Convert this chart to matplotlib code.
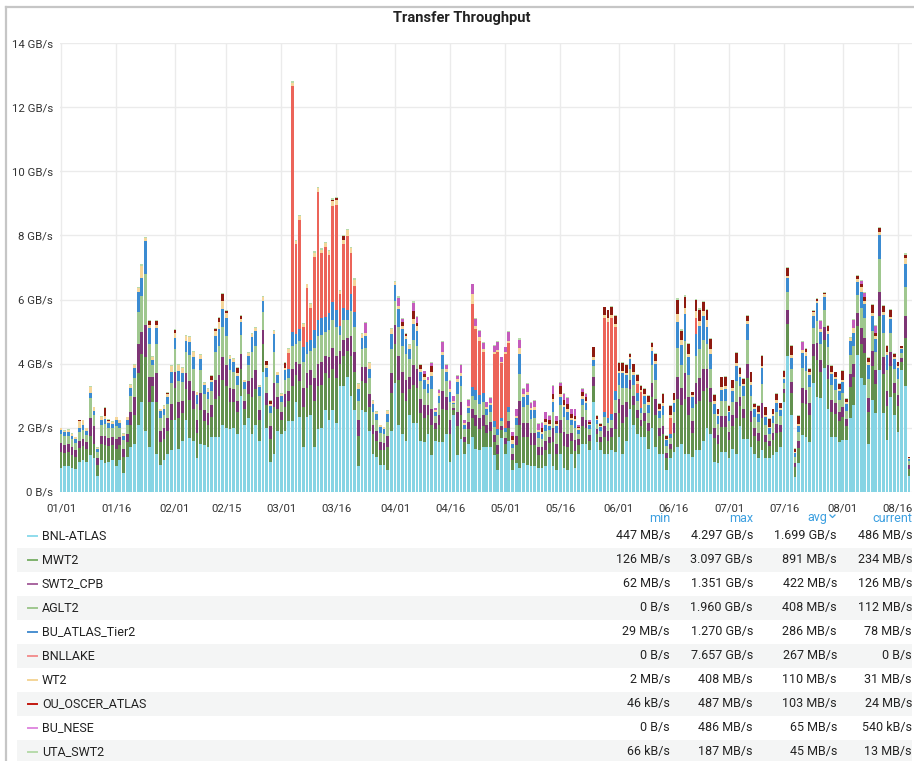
import numpy as np
import pandas as pd
import matplotlib
matplotlib.use("Agg")
import matplotlib.pyplot as plt
import matplotlib.dates as mdates
from matplotlib.lines import Line2D
from matplotlib.patches import Rectangle

plt.rcParams["font.family"] = ["Roboto", "DejaVu Sans"]

W, H = 914, 761

days = pd.date_range("2020-01-01", periods=232, freq="D")

# daily transfer rate per site, GB/s (stack order bottom -> top)
bnl_atlas = [
    .75, .8, .8, .75, .72, .95, 1.0, .95, 1.15, 1.05,
    .5, 1.0, .9, .95, 1.0, .8, 1.0, .6, 1.1, 1.4,
    1.5, 2.1, 2.8, 1.9, 1.4, 2.8, 1.2, .85, 1.0, 1.2,
    1.3, 2.25, 1.35, 1.6, 2.25, 1.67, 1.6, 1.05, 1.5, 1.45,
    1.4, 1.7, 1.7, 1.7, 2.1, 2.0, 1.95, 2.0, 1.8, 3.0,
    2.1, 2.3, 1.8, 2.1, 1.6, 3.75, 2.0, .95, 1.2, 1.9,
    1.8, 1.9, 2.2, 2.2, 2.8, 2.35, 1.4, 2.35, 2.4, 1.4,
    1.95, 2.0, 2.55, 2.25, 2.55, 2.15, 3.3, 3.3, 3.6, 3.0,
    2.55, .8, 2.55, 2.5, 1.9, 1.2, 1.1, .85, .85, .7,
    1.9, 3.4, 2.1, 1.8, 1.6, 2.4, 2.15, 2.15, 1.6, 1.55,
    1.8, 1.15, 1.6, 1.55, 1.55, 1.8, .95, 2.4, 1.15, 1.65,
    1.2, 1.5, 1.7, 1.35, 1.3, 1.4, 1.4, 1.4, 1.15, .7,
    1.67, 1.2, 1.6, .7, .9, .74, .9, .85, .8, .8,
    .74, .74, .8, 1.2, .8, .7, 1.2, .74, .7, 1.2,
    .74, 1.2, 1.5, 1.5, 1.3, 2.8, 1.55, 1.3, 1.2, 1.2,
    1.3, 1.25, 1.7, 1.2, 1.6, 2.6, 2.1, 1.8, 1.7, 1.7,
    1.35, 2.0, 1.4, 1.2, 1.2, .7, 1.05, 1.25, 1.4, 1.5,
    1.2, 1.2, 1.1, 1.3, 1.3, 1.6, 2.0, 1.8, .95, .9,
    1.25, 1.25, 1.05, 1.35, 1.2, 2.05, 1.65, 1.65, 1.4, 1.2,
    1.05, 1.3, 1.05, 1.05, 1.15, 1.25, 1.4, 2.8, 4.24, 2.4,
    .48, .9, 1.78, 1.73, 1.57, 3.4, 2.97, 2.92, 3.86, 2.6,
    1.73, 1.73, 1.57, 1.62, 1.62, 2.3, 2.7, 4.27, 3.54, 3.34,
    1.5, 2.87, 2.45, 3.8, 2.45, 1.62, 2.97, 2.4, 1.88, 3.8,
    3.3, .486,
]
mwt2 = [
    .5, .42, .45, .4, .38, .42, .42, .4, .6, .45,
    .35, .5, .55, .48, .45, .55, .45, .5, .45, .7,
    .9, 1.6, 1.5, 2.3, 1.4, .5, 1.6, .7, .65, .7,
    .95, 1.0, .95, .85, .95, 1.2, 1.0, .8, 1.05, .75,
    .7, .65, 1.2, 1.3, 1.4, 1.3, .85, .8, .7, .85,
    .5, .75, 1.15, 1.1, .65, .85, .7, .7, 1.45, .7,
    .45, .75, .65, 1.1, .85, 1.1, 1.25, .9, .95, 1.45,
    1.35, 1.35, 1.15, 1.3, 1.3, 1.4, .7, .95, .8, 1.25,
    1.2, .95, .9, .9, .75, .6, .5, .45, .45, .7,
    1.2, 1.2, 1.4, 1.3, 1.25, .8, 1.2, 1.1, .85, .75,
    .6, .95, .35, .55, 1.05, .75, .85, .15, .9, .75,
    .35, .45, .6, .7, .65, .65, .45, .5, .4, .5,
    .25, .3, .4, .3, .55, 1.35, .8, .85, .65, .65,
    .42, .4, .5, .32, .75, .5, .65, .7, .7, .4,
    .55, .28, .55, .48, .3, .5, .26, .27, .5, .4,
    .4, .7, .75, .95, .75, .6, .6, .5, .35, .5,
    .55, .95, 1.0, .55, .6, .35, .3, .6, 1.5, 1.2,
    1.7, 1.2, .75, 1.45, 1.55, 1.55, 1.25, 1.0, .72, .6,
    .78, .78, .57, .72, 1.1, .62, .65, 1.9, .78, .55,
    .55, 1.0, .5, .37, .48, .6, .47, .29, 1.0, .7,
    .3, .47, 1.0, 1.0, .83, .83, 1.15, .82, .88, .93,
    .78, .71, .63, .72, .45, .96, .9, .9, 1.08, 1.0,
    .98, 1.05, .93, 1.7, 1.22, 1.05, .97, .7, .8, .26,
    1.5, .234,
]
swt2_cpb = [
    .27, .25, .25, .25, .2, .22, .22, .2, .55, .55,
    .2, .25, .3, .25, .25, .3, .25, .25, .25, .4,
    .55, .9, .7, 1.0, .8, .3, .9, .35, .35, .4,
    .5, .5, .5, .4, .5, .6, .55, .4, .55, .35,
    .35, .35, .6, .65, .7, .65, .45, .4, .35, .45,
    .25, .4, .6, .6, .3, .45, .4, .4, .75, .35,
    .25, .4, .3, .55, .4, .55, .6, .45, .45, .7,
    .7, .7, .55, .65, .65, .7, .4, .5, .4, .6,
    .6, .5, .45, .5, .4, .3, .3, .25, .22, .35,
    .6, .6, .75, .65, .65, .4, .6, .6, .45, .4,
    .3, .5, .2, .3, .55, .4, .45, .08, .45, .4,
    .18, .22, .3, .35, .35, .35, .25, .28, .22, .27,
    .13, .17, .22, .17, .3, .75, .45, .45, .4, .4,
    .25, .25, .28, .2, .45, .3, .4, .42, .4, .23,
    .33, .16, .3, .28, .17, .3, .15, .16, .35, .3,
    .3, .5, .45, .55, .45, .3, .3, .25, .18, .25,
    .25, .45, .5, .25, .25, .17, .15, .3, .7, .55,
    .8, .55, .35, .65, .7, .7, .6, .45, .33, .27,
    .35, .35, .26, .33, .5, .28, .3, .45, .35, .25,
    .25, .47, .23, .17, .22, .28, .21, .13, .45, .32,
    .13, .21, .47, .45, .38, .38, .52, .38, .4, .42,
    .35, .32, .29, .32, .2, .43, .4, .41, .48, .46,
    .44, .47, .42, .75, .55, .48, .43, .31, .36, .12,
    .7, .126,
]
aglt2 = [
    .28, .27, .26, .24, .24, .29, .3, .23, .63, .35,
    .2, .35, .37, .32, .28, .4, .3, .28, .3, .5,
    .62, 1.0, 1.1, 1.6, 1.0, .36, .9, .42, .4, .45,
    .65, .7, .65, .57, .67, .8, .7, .5, .7, .5,
    .45, .45, .85, .9, .95, .9, .55, .55, .5, .6,
    .37, .5, .8, .75, .45, .55, .5, .42, .95, .45,
    .32, .45, .4, .7, .55, .7, .8, .6, .6, .95,
    .85, .85, .75, .85, .85, .9, .5, .6, .55, .8,
    .8, .6, .55, .6, .5, .4, .33, .3, .28, .43,
    .75, .75, .9, .8, .8, .55, .8, .7, .55, .5,
    .4, .6, .22, .37, .7, .5, .55, .1, .57, .5,
    .22, .28, .4, .47, .45, .42, .3, .33, .26, .3,
    .16, .2, .26, .2, .35, .85, .5, .55, .42, .45,
    .28, .26, .32, .22, .5, .33, .45, .48, .45, .26,
    .37, .18, .35, .3, .19, .33, .17, .18, .28, .25,
    .25, .42, .45, .55, .45, .35, .35, .3, .22, .3,
    .32, .55, .6, .3, .35, .22, .18, .35, .9, .7,
    1.0, .7, .42, .85, .9, .9, .75, .6, .42, .35,
    .45, .45, .34, .42, .65, .36, .4, .75, .47, .34,
    .33, .6, .3, .22, .3, .37, .28, .18, .55, .43,
    .17, .28, .62, .6, .5, .5, .7, .5, .53, .56,
    .47, .43, .38, .43, .27, .58, .54, .55, .65, .61,
    .59, .63, .55, 1.0, .74, .64, .58, .42, .48, .16,
    .9, .112,
]
bu_atlas_tier2 = [
    .12, .12, .12, .12, .1, .12, .14, .12, .16, .12,
    .08, .15, .15, .15, .14, .18, .15, .13, .15, .24,
    .3, .64, .56, 1.03, .52, .15, .52, .2, .2, .2,
    .33, .36, .32, .3, .35, .4, .37, .28, .35, .28,
    .23, .27, .52, .54, .56, .59, .34, .31, .27, .39,
    .2, .29, .47, .47, .26, .35, .27, .2, .57, .25,
    .18, .3, .27, .45, .33, .39, .48, .37, .35, .54,
    .51, .54, .45, .54, .57, .51, .27, .38, .32, .51,
    .47, .37, .35, .37, .28, .25, .2, .17, .17, .25,
    .49, .5, .56, .54, .47, .32, .5, .47, .3, .28,
    .28, .41, .14, .23, .42, .3, .32, .06, .35, .32,
    .15, .17, .27, .32, .27, .26, .19, .21, .17, .2,
    .1, .14, .16, .14, .22, .61, .32, .33, .28, .27,
    .17, .17, .2, .13, .31, .22, .27, .3, .26, .16,
    .23, .11, .21, .2, .12, .2, .1, .11, .18, .16,
    .18, .27, .35, .45, .39, .29, .3, .23, .16, .23,
    .25, .46, .49, .24, .28, .17, .13, .28, .8, .63,
    .84, .56, .33, .68, .74, .73, .56, .46, .33, .25,
    .35, .37, .26, .33, .47, .29, .29, .48, .35, .25,
    .25, .49, .25, .17, .22, .28, .21, .13, .43, .33,
    .13, .21, .47, .47, .38, .39, .54, .38, .4, .43,
    .35, .33, .29, .33, .21, .44, .41, .41, .49, .46,
    .45, .48, .42, .77, .56, .48, .44, .31, .36, .11,
    .7, .078,
]
bnllake = [
    0, 0, 0, 0, 0, 0, 0, 0, 0, 0,
    0, 0, 0, 0, 0, 0, 0, 0, 0, 0,
    0, 0, 0, 0, 0, 0, 0, 0, 0, 0,
    0, 0, 0, 0, 0, 0, 0, 0, 0, 0,
    0, 0, 0, 0, 0, 0, 0, 0, 0, 0,
    0, 0, 0, 0, 0, 0, 0, 0, 0, 0,
    0, 0, .5, 7.66, 2.8, 3.4, .6, 1.7, 1.0, 2.3,
    4.0, 2.0, 2.2, 1.8, 3.0, 3.3, 1.0, 2.0, 2.3, 1.3,
    .8, 0, 0, 0, 0, 0, 0, 0, 0, 0,
    0, 0, 0, 0, 0, 0, 0, 0, 0, 0,
    0, 0, 0, 0, 0, 0, 0, 0, 0, 0,
    0, 0, 2.6, 1.9, 1.7, 1.3, 0, 0, 2.1, 2.4,
    1.7, 2.3, 2.0, 0, 0, 0, 0, 0, 0, 0,
    0, 0, 0, 0, 0, 0, 0, 0, 0, 0,
    0, 0, 0, 0, 0, 0, 0, 0, 2.9, 3.0,
    3.0, 2.0, 0, 0, 0, 0, 0, .3, .5, 0,
    0, 0, 0, 0, 0, 0, .5, 0, 0, 0,
    0, 0, 0, .5, 0, 0, 0, 0, 0, 0,
    0, 0, 0, 0, 0, 0, 0, 0, 0, 0,
    0, 0, 0, 0, 0, 0, 0, 0, 0, 0,
    0, 0, 0, 0, 0, 0, 0, 0, 0, 0,
    0, 0, 0, 0, 0, 0, 0, 0, 0, 0,
    0, 0, 0, 0, 0, 0, 0, 0, 0, 0,
    0, 0,
]
wt2 = [
    .06, .05, .05, .05, .06, .2, .15, .08, .18, .12,
    .05, .1, .1, .06, .06, .1, .08, .05, .08, .1,
    .1, .12, .4, .08, .1, .1, .1, .06, .08, .1,
    .2, .15, .2, .15, .15, .15, .15, .08, .12, .08,
    .08, .08, .15, .2, .25, .15, .1, .08, .1, .1,
    .06, .1, .1, .1, .06, .12, .08, .06, .1, .08,
    .06, .08, .15, .1, .1, .12, .1, .1, .1, .12,
    .12, .12, .12, .12, .15, .15, .1, .12, .2, .15,
    .2, .15, .12, .1, .2, .1, .08, .06, .05, .1,
    .15, .1, .1, .1, .1, .1, .15, .15, .1, .1,
    .1, .12, .05, .08, .1, .1, .1, .05, .1, .1,
    .05, .06, .3, .1, .1, .08, .06, .06, .06, .06,
    .05, .05, .06, .1, .06, .2, .08, .08, .08, .08,
    .06, .06, .08, .06, .1, .06, .08, .08, .08, .06,
    .06, .05, .08, .08, .05, .08, .05, .05, .1, .1,
    .1, .1, .08, .08, .08, .06, .08, .08, .06, .08,
    .08, .1, .1, .06, .08, .05, .08, .1, .25, .15,
    .2, .1, .06, .2, .15, .15, .2, .15, .08, .06,
    .1, .1, .06, .08, .1, .08, .08, .1, .08, .06,
    .06, .08, .06, .05, .06, .08, .05, .05, .08, .08,
    .04, .06, .1, .1, .08, .1, .08, .08, .1, .08,
    .06, .06, .06, .06, .05, .1, .15, .1, .15, .1,
    .08, .08, .1, .1, .08, .08, .08, .06, .06, .04,
    .2, .031,
]
ou_oscer_atlas = [
    0, 0, 0, 0, 0, .03, 0, 0, 0, 0,
    0, 0, .25, .04, 0, 0, 0, 0, 0, 0,
    0, 0, 0, 0, .1, 0, .1, 0, 0, .05,
    0, .08, 0, 0, 0, 0, 0, 0, 0, 0,
    0, .12, .05, .15, .2, .05, 0, 0, .15, .1,
    0, 0, 0, 0, 0, 0, .12, .12, 0, 0,
    0, .15, 0, 0, 0, 0, 0, 0, 0, 0,
    0, 0, 0, 0, .05, .05, 0, .12, 0, 0,
    0, 0, 0, 0, 0, 0, 0, 0, 0, 0,
    0, 0, 0, .1, .05, 0, .25, .1, .1, .1,
    0, .2, 0, 0, 0, 0, 0, 0, 0, 0,
    0, 0, 0, 0, 0, 0, 0, 0, 0, 0,
    0, 0, 0, .15, 0, 0, 0, 0, 0, 0,
    0, .12, .1, .1, .15, .1, .25, .15, .15, .12,
    .1, .05, .12, .12, .05, .3, .1, .05, .25, .25,
    .25, .25, .25, .25, .25, .1, .25, .2, .15, .15,
    .2, .15, .2, .15, .3, .1, .3, .2, .45, .3,
    .35, .3, .1, .35, .35, .3, .3, .3, .2, .15,
    .3, .3, .15, .25, .3, .2, .15, .15, .3, .1,
    .2, .3, .25, .25, .15, .2, .15, .2, .25, .3,
    .1, .25, 0, .1, .1, .05, .05, 0, .05, .15,
    .2, .15, .15, .3, .1, 0, 0, .1, .1, .1,
    .15, .25, .1, .1, .2, .2, .2, .1, .1, .05,
    .1, .024,
]
bu_nese = [
    0, 0, 0, 0, 0, 0, 0, 0, 0, 0,
    0, 0, 0, 0, 0, 0, 0, 0, 0, 0,
    0, 0, 0, 0, 0, 0, 0, 0, 0, 0,
    0, 0, 0, 0, 0, 0, 0, 0, 0, 0,
    0, 0, 0, 0, 0, 0, 0, 0, 0, 0,
    0, 0, 0, 0, 0, 0, 0, 0, 0, 0,
    0, 0, 0, 0, 0, 0, 0, 0, 0, 0,
    0, 0, 0, 0, 0, 0, 0, 0, 0, 0,
    0, 0, 0, .3, 0, 0, 0, 0, 0, 0,
    0, 0, .25, .1, 0, 0, .25, .2, 0, .08,
    .1, .1, .05, .1, .3, .1, .25, .15, .1, .25,
    .08, .2, .3, .2, .2, .2, .15, .15, .2, .25,
    .15, .15, .3, .1, .2, .25, .15, .25, .15, .2,
    .2, .15, .2, .15, .25, .15, .1, .2, .2, .15,
    .2, .05, .1, .1, .05, 0, 0, 0, 0, 0,
    0, 0, 0, 0, 0, 0, 0, 0, 0, 0,
    0, 0, 0, 0, 0, 0, 0, 0, 0, 0,
    0, 0, 0, 0, 0, 0, 0, 0, 0, 0,
    0, 0, 0, 0, 0, 0, 0, 0, 0, 0,
    0, 0, 0, 0, 0, 0, 0, 0, 0, 0,
    0, 0, .25, 0, 0, 0, 0, .25, 0, 0,
    0, 0, 0, 0, 0, 0, .25, 0, .08, .15,
    0, 0, .2, 0, 0, 0, 0, 0, 0, 0,
    0, .0005,
]
uta_swt2 = [
    .02, .02, .02, .02, .02, .02, .02, .02, .03, .02,
    .02, .02, .02, .02, .02, .02, .02, .02, .02, .03,
    .03, .04, .04, .05, .04, .03, .04, .02, .02, .03,
    .03, .03, .03, .03, .03, .03, .03, .02, .03, .03,
    .02, .03, .03, .03, .04, .03, .03, .03, .03, .03,
    .02, .03, .03, .03, .02, .03, .03, .02, .03, .02,
    .02, .03, .03, .04, .03, .03, .03, .03, .03, .04,
    .04, .04, .03, .04, .04, .04, .03, .03, .03, .04,
    .04, .03, .03, .03, .03, .02, .02, .02, .02, .02,
    .03, .03, .04, .03, .03, .03, .04, .03, .03, .02,
    .02, .03, .02, .02, .03, .03, .03, .01, .03, .03,
    .02, .02, .03, .03, .03, .03, .02, .02, .02, .02,
    .01, .02, .02, .02, .02, .04, .03, .03, .02, .02,
    .02, .02, .02, .02, .03, .02, .03, .03, .03, .02,
    .02, .02, .02, .02, .02, .02, .02, .02, .02, .02,
    .02, .03, .03, .03, .03, .02, .02, .02, .02, .02,
    .02, .03, .03, .02, .02, .02, .02, .02, .04, .04,
    .05, .03, .02, .04, .04, .04, .04, .03, .02, .02,
    .02, .02, .02, .02, .03, .02, .02, .04, .02, .02,
    .02, .03, .02, .02, .02, .02, .02, .02, .03, .02,
    .01, .02, .03, .03, .02, .03, .03, .03, .03, .03,
    .02, .02, .02, .02, .02, .03, .03, .03, .03, .03,
    .03, .03, .03, .05, .03, .03, .03, .02, .02, .01,
    .04, .013,
]

site_names = ["BNL-ATLAS", "MWT2", "SWT2_CPB", "AGLT2", "BU_ATLAS_Tier2",
              "BNLLAKE", "WT2", "OU_OSCER_ATLAS", "BU_NESE", "UTA_SWT2"]
site_values = [bnl_atlas, mwt2, swt2_cpb, aglt2, bu_atlas_tier2,
               bnllake, wt2, ou_oscer_atlas, bu_nese, uta_swt2]
bar_colors = ["#86d4e4", "#62914f", "#7d3575", "#9fc78f", "#3b8bd1",
              "#ec6459", "#f5d69a", "#8e1a10", "#c45cbc", "#b7dbab"]
key_colors = ["#8fdcec", "#7eb26d", "#a8659f", "#9fc78f", "#4a8fd0",
              "#f29191", "#f4d598", "#c2190f", "#e08be0", "#b7dbab"]

# legend table statistics
stat_min = ["447 MB/s", "126 MB/s", "62 MB/s", "0 B/s", "29 MB/s",
            "0 B/s", "2 MB/s", "46 kB/s", "0 B/s", "66 kB/s"]
stat_max = ["4.297 GB/s", "3.097 GB/s", "1.351 GB/s", "1.960 GB/s", "1.270 GB/s",
            "7.657 GB/s", "408 MB/s", "487 MB/s", "486 MB/s", "187 MB/s"]
stat_avg = ["1.699 GB/s", "891 MB/s", "422 MB/s", "408 MB/s", "286 MB/s",
            "267 MB/s", "110 MB/s", "103 MB/s", "65 MB/s", "45 MB/s"]
stat_cur = ["486 MB/s", "234 MB/s", "126 MB/s", "112 MB/s", "78 MB/s",
            "0 B/s", "31 MB/s", "24 MB/s", "540 kB/s", "13 MB/s"]

x_ticks = ["01/01", "01/16", "02/01", "02/15", "03/01", "03/16", "04/01", "04/16",
           "05/01", "05/16", "06/01", "06/16", "07/01", "07/16", "08/01", "08/16"]
y_ticks = [0, 2, 4, 6, 8, 10, 12, 14]
y_labels = ["0 B/s", "2 GB/s", "4 GB/s", "6 GB/s", "8 GB/s", "10 GB/s", "12 GB/s", "14 GB/s"]


def fx(px):
    return px / W


def fy(px):
    return 1 - px / H


fig = plt.figure(figsize=(W / 100, H / 100), dpi=100)
fig.patch.set_facecolor("white")

ax = fig.add_axes([fx(60), fy(492), fx(852), 449 / H])
x = mdates.date2num(days)
bottom = np.zeros(len(days))
for vals, col in zip(site_values, bar_colors):
    vals = np.array(vals, dtype=float)
    ax.bar(x, vals, width=0.74, bottom=bottom, color=col, linewidth=0, zorder=2)
    bottom += vals

tick_pos = mdates.date2num(pd.to_datetime(["2020/" + t for t in x_ticks]))
ax.set_xticks(tick_pos)
ax.set_xticklabels(x_ticks)
ax.set_yticks(y_ticks)
ax.set_yticklabels(y_labels)
ax.set_xlim(x[0] - 0.3, x[0] + 231.85)
ax.set_ylim(0, 14)
ax.grid(True, color="#ebebeb", linewidth=1, zorder=0)
ax.set_axisbelow(True)
for s in ax.spines.values():
    s.set_visible(False)
ax.tick_params(axis="x", length=0, pad=8, labelsize=8.2, labelcolor="#333333")
ax.tick_params(axis="y", length=0, pad=5, labelsize=8.2, labelcolor="#333333")

# panel frame and title
fig.add_artist(Line2D([fx(6), fx(6)], [fy(7), 0], color="#c6c6c6", lw=1.6))
fig.add_artist(Line2D([fx(6), 1], [fy(7), fy(7)], color="#c6c6c6", lw=1.6))
fig.text(fx(462), fy(18), "Transfer Throughput", ha="center", va="center",
         fontsize=10.5, fontweight="bold", color="#222222")

# legend table
col_right = [670, 753, 837, 912]
head_color = "#3b9fe0"
fig.text(fx(670), fy(518), "min", ha="right", va="center", fontsize=9, color=head_color)
fig.text(fx(753), fy(518), "max", ha="right", va="center", fontsize=9, color=head_color)
fig.text(fx(827), fy(518), "avg", ha="right", va="center", fontsize=9, color=head_color)
fig.add_artist(Line2D([fx(830), fx(832.5), fx(835)], [fy(515), fy(517.5), fy(515)],
                      color=head_color, lw=0.9))
fig.text(fx(912), fy(518), "current", ha="right", va="center", fontsize=9, color=head_color)

for k, name in enumerate(site_names):
    yc = 536 + 24.0 * k
    if k % 2 == 1:
        fig.add_artist(Rectangle((fx(17), fy(yc + 12)), fx(895), 24 / H,
                                 facecolor="#f4f5f5", edgecolor="none", zorder=0))
    fig.add_artist(Line2D([fx(28), fx(37)], [fy(yc), fy(yc)], color=key_colors[k], lw=1.4))
    fig.text(fx(42), fy(yc), name, ha="left", va="center", fontsize=9, color="#222222")
    for vals, xr in zip([stat_min, stat_max, stat_avg, stat_cur], col_right):
        fig.text(fx(xr), fy(yc), vals[k], ha="right", va="center", fontsize=9, color="#222222")

fig.savefig("out.png", dpi=100)
